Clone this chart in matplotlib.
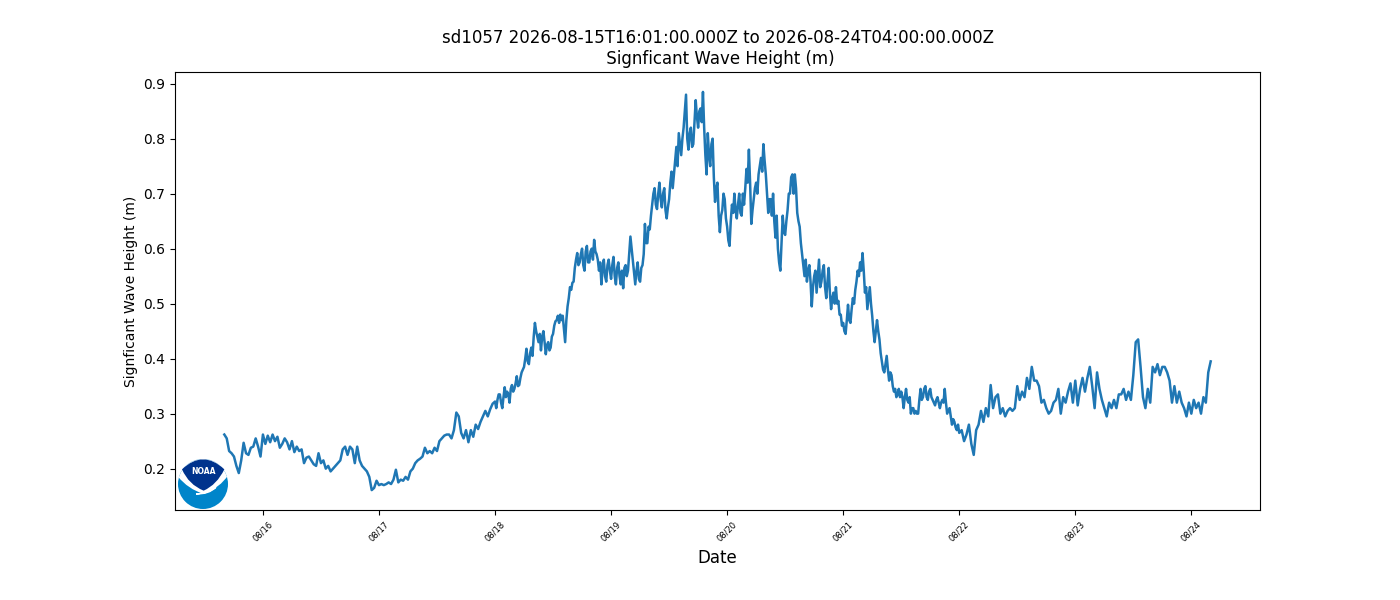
import matplotlib
matplotlib.use("Agg")
import matplotlib.dates as mdates
import matplotlib.pyplot as plt
import numpy as np
import pandas as pd
from matplotlib.patches import Circle, PathPatch
from matplotlib.path import Path

# significant wave height, one list per day
# (half-hourly on the quiet days, quarter-hourly on the noisy ones)
aug15 = [.262, .255, .232, .228, .222, .205, .192, .215, .247, .228, .225, .238, .24, .255, .24, .222]
aug16 = [.262, .245, .26, .248, .262, .25, .258, .238, .245, .255, .248, .235, .25, .23, .24, .232,
         .235, .21, .22, .222, .215, .208, .205, .228, .21, .215, .2, .205, .195, .2, .205, .21,
         .215, .235, .24, .225, .24, .235, .21, .24, .215, .205, .2, .195, .185, .161, .165, .178]
aug17 = [.17, .172, .17, .172, .175, .172, .18, .198, .175, .18, .178, .185, .18, .195, .2, .21,
         .215, .218, .222, .238, .228, .232, .228, .238, .232, .25, .255, .26, .262, .262, .255, .27,
         .302, .295, .265, .255, .27, .248, .27, .258, .28, .272, .285, .295, .305, .295, .308, .318]
aug18 = [.322, .31, .325, .335, .335, .32, .31, .33, .348, .33, .34, .335, .32, .345, .352, .34,
         .345, .355, .368, .35, .352, .365, .375, .38, .385, .40, .418, .395, .39, .41, .42, .405,
         .44, .465, .45, .44, .43, .445, .415, .44, .45, .43, .408, .425, .43, .415, .42, .44,
         .445, .46, .468, .47, .478, .465, .48, .47, .478, .455, .43, .47, .495, .51, .53, .525,
         .538, .54, .565, .58, .592, .57, .575, .59, .6, .57, .56, .595, .605, .575, .575, .595,
         .6, .58, .616, .595, .59, .58, .56, .575, .535, .565, .58, .55, .54, .57, .58, .56]
aug19 = [.545, .57, .585, .55, .535, .565, .575, .55, .535, .56, .528, .565, .57, .55, .56, .59,
         .622, .60, .58, .555, .535, .56, .575, .545, .54, .565, .57, .59, .645, .61, .61, .64,
         .635, .66, .68, .70, .71, .68, .672, .70, .72, .69, .675, .70, .71, .67, .655, .675,
         .69, .72, .74, .71, .735, .76, .785, .75, .81, .79, .77, .80, .82, .85, .88, .80,
         .78, .81, .82, .785, .79, .83, .87, .84, .82, .85, .855, .83, .885, .82, .77, .735,
         .81, .77, .75, .79, .8, .73, .685, .71, .72, .66, .63, .66, .67, .70, .69, .655]
aug20 = [.64, .615, .605, .65, .68, .665, .70, .67, .655, .68, .70, .665, .66, .70, .68, .71,
         .745, .72, .78, .72, .645, .67, .69, .71, .72, .70, .735, .75, .765, .74, .79, .76,
         .735, .70, .665, .69, .69, .66, .70, .65, .62, .66, .60, .575, .56, .61, .66, .63,
         .625, .65, .67, .70, .70, .73, .735, .70, .735, .71, .665, .65, .64, .61, .59, .57,
         .55, .58, .54, .56, .57, .54, .495, .53, .55, .56, .52, .55, .58, .53, .54, .56,
         .57, .53, .51, .54, .565, .52, .49, .51, .52, .50, .53, .50, .505, .48, .48, .46]
aug21 = [.465, .45, .445, .47, .498, .47, .465, .49, .51, .50, .525, .54, .56, .55, .575, .56,
         .592, .56, .52, .53, .49, .51, .53, .50, .478, .45, .43, .45, .47, .45, .435, .41,
         .395, .38, .375, .39, .405, .38, .36, .375, .37, .35, .34, .345, .33, .335, .345, .33,
         .34, .33, .31, .33, .345, .325, .32, .33, .30, .31, .31, .30, .305, .30, .30, .325,
         .345, .325, .33, .345, .35, .33, .325, .34, .345, .33, .325, .32, .315, .325, .33, .32,
         .31, .32, .325, .32, .345, .32, .30, .305, .31, .295, .28, .29, .285, .275, .27, .28]
aug22 = [.265, .27, .25, .262, .28, .245, .225, .27, .28, .305, .285, .31, .295, .352, .31, .33,
         .335, .30, .31, .295, .305, .31, .305, .31, .35, .325, .34, .33, .365, .345, .385, .36,
         .36, .35, .32, .325, .31, .30, .305, .32, .325, .345, .3, .33, .32, .34, .355, .32]
aug23 = [.36, .315, .345, .365, .34, .365, .385, .35, .31, .375, .345, .325, .31, .295, .32, .31,
         .325, .31, .335, .335, .345, .325, .34, .325, .37, .43, .435, .385, .33, .31, .345, .32,
         .385, .375, .39, .37, .385, .385, .375, .36, .32, .35, .32, .34, .32, .31, .295, .32]
aug24 = [.3, .325, .31, .32, .3, .33, .32, .375, .395]

days = [("2026-08-15 16:01", aug15), ("2026-08-16", aug16), ("2026-08-17", aug17), ("2026-08-18", aug18),
        ("2026-08-19", aug19), ("2026-08-20", aug20), ("2026-08-21", aug21), ("2026-08-22", aug22),
        ("2026-08-23", aug23)]

times = []
for i, (start, vals) in enumerate(days):
    next_day = days[i + 1][0] if i + 1 < len(days) else "2026-08-24"
    times.append(pd.date_range(start, next_day, periods=len(vals) + 1)[:-1])
times.append(pd.date_range("2026-08-24", "2026-08-24 04:00", periods=len(aug24)))
times = times[0].append(times[1:])
wave_height = np.concatenate([vals for _, vals in days] + [aug24])

fig, ax = plt.subplots(figsize=(14, 6))
fig.subplots_adjust(bottom=0.15)

ax.plot(times, wave_height, color="#1f77b4", linewidth=1.8)
ax.set_title("sd1057 2026-08-15T16:01:00.000Z to 2026-08-24T04:00:00.000Z\n Signficant Wave Height (m)", fontsize=12)
ax.set_xlabel("Date", fontsize=12)
ax.set_ylabel("Signficant Wave Height (m)")
ax.xaxis.set_major_locator(mdates.DayLocator())
ax.xaxis.set_major_formatter(mdates.DateFormatter("%m/%d"))
ax.tick_params(axis="x", labelsize=6, labelrotation=45)

# NOAA logo, drawn in its own small axes
logo = fig.add_axes([172 / 1400, 86 / 600, 62 / 1400, 60 / 600])
logo.set_xlim(0, 186)
logo.set_ylim(180, 0)
logo.axis("off")

disc = Circle((93, 90), 75, facecolor="#0085ca", edgecolor="none")
logo.add_patch(disc)

# white band over the top of the disc
band = [(Path.MOVETO, (10, 10)), (Path.LINETO, (10, 64)), (Path.LINETO, (18, 68)),
        (Path.CURVE3, (48, 105)), (Path.CURVE3, (95, 120)),
        (Path.CURVE3, (145, 100)), (Path.CURVE3, (168, 64)),
        (Path.LINETO, (176, 62)), (Path.LINETO, (176, 10)), (Path.CLOSEPOLY, (10, 10))]
codes, verts = zip(*band)
band_patch = PathPatch(Path(verts, codes), facecolor="white", edgecolor="none")
logo.add_patch(band_patch)
band_patch.set_clip_path(disc)

navy = [(Path.MOVETO, (30, 46)),
        (Path.CURVE3, (93, -14)), (Path.CURVE3, (157, 46)),
        (Path.CURVE3, (135, 92)), (Path.CURVE3, (95, 110)),
        (Path.CURVE3, (50, 92)), (Path.CURVE3, (30, 46)),
        (Path.CLOSEPOLY, (30, 46))]
codes, verts = zip(*navy)
logo.add_patch(PathPatch(Path(verts, codes), facecolor="#00338d", edgecolor="none"))

swoosh = [(Path.MOVETO, (72, 120)),
          (Path.CURVE3, (105, 118)), (Path.CURVE3, (132, 100)),
          (Path.CURVE3, (110, 122)), (Path.CURVE3, (72, 120)),
          (Path.CLOSEPOLY, (72, 120))]
codes, verts = zip(*swoosh)
logo.add_patch(PathPatch(Path(verts, codes), facecolor="white", edgecolor="white", linewidth=0.8))

logo.text(93, 53, "NOAA", color="white", fontsize=5.5, fontweight="bold", ha="center", va="center")

fig.savefig("out.png", dpi=100)
plt.close(fig)
